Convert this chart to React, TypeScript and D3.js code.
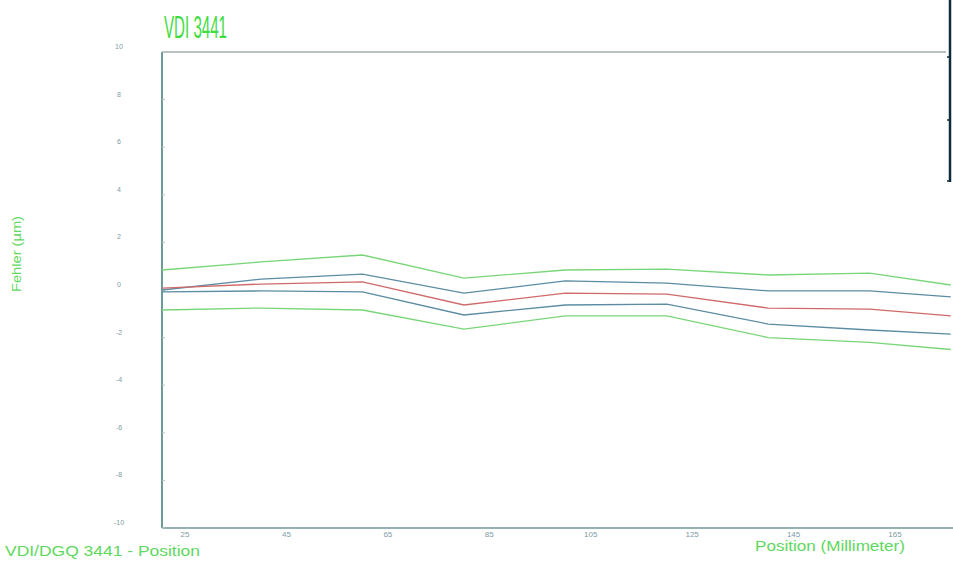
import React from "react";
import * as d3 from "d3";

const positions = [20.5, 40, 60, 80, 100, 120, 140, 160, 176];
const greenUpper = [0.84, 1.18, 1.47, 0.5, 0.84, 0.88, 0.63, 0.71, 0.21];
const blueUpper = [0.0, 0.46, 0.67, -0.13, 0.38, 0.29, -0.04, -0.04, -0.29];
const redMean = [0.08, 0.25, 0.34, -0.63, -0.13, -0.17, -0.76, -0.8, -1.09];
const blueLower = [-0.08, -0.04, -0.08, -1.05, -0.63, -0.59, -1.43, -1.68, -1.85];
const greenLower = [-0.84, -0.76, -0.84, -1.64, -1.09, -1.09, -2.0, -2.2, -2.5];

const xTicks = [25, 45, 65, 85, 105, 125, 145, 165];
const yTicks = [10, 8, 6, 4, 2, 0, -2, -4, -6, -8, -10];

const series = [
  { name: "greenUpper", values: greenUpper, color: "#78d678" },
  { name: "blueUpper", values: blueUpper, color: "#5b8ca3" },
  { name: "redMean", values: redMean, color: "#d06a6a" },
  { name: "blueLower", values: blueLower, color: "#5b8ca3" },
  { name: "greenLower", values: greenLower, color: "#78d678" },
];

export default function App() {
  const W = 953;
  const H = 561;
  const left = 162;
  const top = 52;
  const bottom = 528;
  const x = d3.scaleLinear().domain([25, 165]).range([185, 895]);
  const y = d3.scaleLinear().domain([10, -10]).range([top, bottom]);
  const line = d3
    .line<number>()
    .x((_, i) => x(positions[i]))
    .y((d) => y(d));

  return (
    <svg
      width={W}
      height={H}
      style={{ position: "absolute", left: 0, top: 0, background: "#fff" }}
      fontFamily="Liberation Sans, Arial, sans-serif"
    >
      <defs>
        <clipPath id="plot">
          <rect x={left} y={top} width={W - left} height={bottom - top} />
        </clipPath>
      </defs>
      <rect width={W} height={H} fill="#fff" />
      {/* frame */}
      <line x1={left} x2={946} y1={top} y2={top} stroke="#a3adad" strokeWidth={1.5} />
      <line x1={left} x2={left} y1={top} y2={bottom} stroke="#6f9a9a" strokeWidth={2} />
      <line x1={left} x2={W} y1={bottom} y2={bottom} stroke="#6f9a9a" strokeWidth={1.5} />
      {/* right cut-off legend box */}
      <line x1={950} x2={950} y1={0} y2={182} stroke="#0d2d38" strokeWidth={2.5} />
      {[57, 120, 181].map((v) => (
        <line key={v} x1={947} x2={951} y1={v} y2={v} stroke="#0d2d38" strokeWidth={1.5} />
      ))}
      {/* y ticks */}
      {yTicks.map((t) => (
        <g key={t}>
          <line x1={left} x2={left + 3} y1={y(t)} y2={y(t)} stroke="#b8c4c4" strokeWidth={1} />
          <text
            x={119}
            y={y(t) - 3}
            textAnchor="middle"
            fontSize={7}
            fill="#7d9ba3"
          >
            {t}
          </text>
        </g>
      ))}
      {/* x ticks */}
      {xTicks.map((t) => (
        <text key={t} x={x(t)} y={537} textAnchor="middle" fontSize={8} fill="#7d9ba3">
          {t}
        </text>
      ))}
      {/* lines */}
      <g clipPath="url(#plot)">
        {series.map((s) => (
          <path
            key={s.name}
            d={line(s.values) || ""}
            fill="none"
            stroke={s.color}
            strokeWidth={1.3}
          />
        ))}
      </g>
      {/* titles */}
      <text
        x={164}
        y={38}
        fontSize={31}
        fill="#3fdc3f"
        textLength={63}
        lengthAdjust="spacingAndGlyphs"
      >
        VDI 3441
      </text>
      <text
        transform="translate(21,254) rotate(-90)"
        textAnchor="middle"
        fontSize={12}
        fill="#5ed85e"
        textLength={76}
        lengthAdjust="spacingAndGlyphs"
      >
        Fehler (µm)
      </text>
      <text
        x={755}
        y={551}
        fontSize={14}
        fill="#5ed85e"
        textLength={150}
        lengthAdjust="spacingAndGlyphs"
      >
        Position (Millimeter)
      </text>
      <text
        x={5}
        y={556}
        fontSize={15}
        fill="#5ed85e"
        textLength={195}
        lengthAdjust="spacingAndGlyphs"
      >
        VDI/DGQ 3441 - Position
      </text>
    </svg>
  );
}
